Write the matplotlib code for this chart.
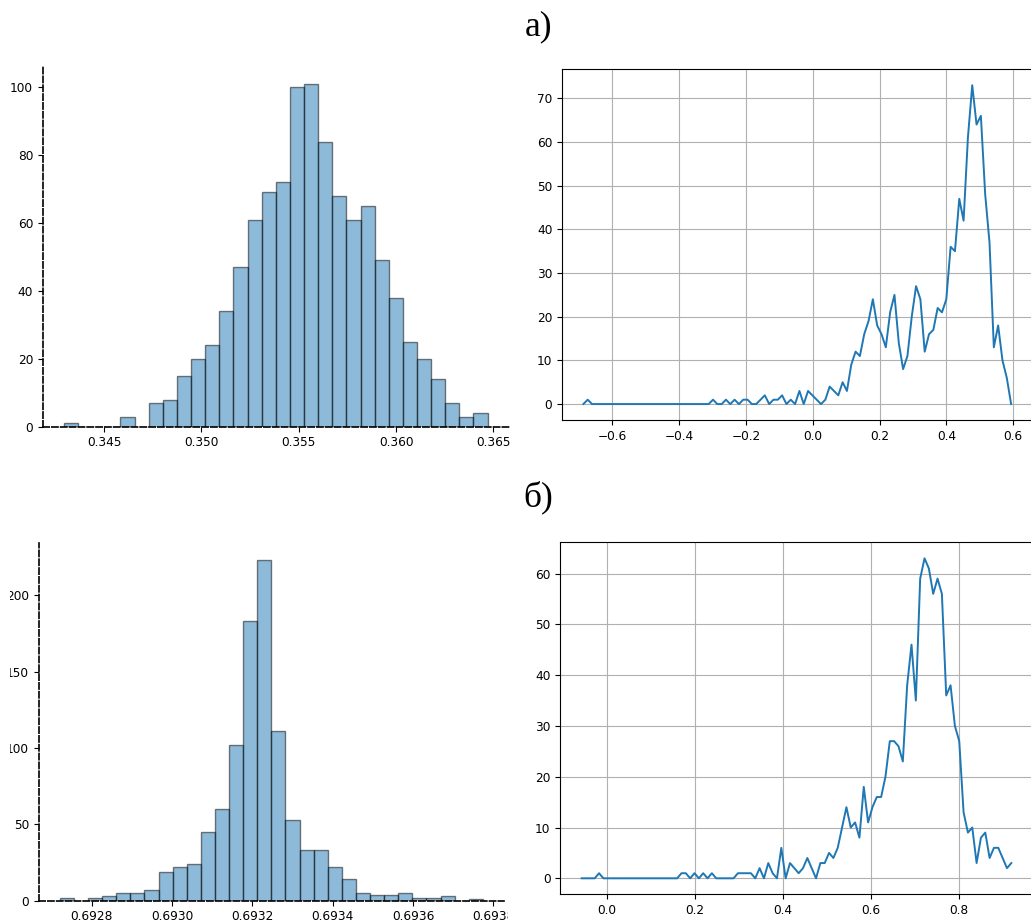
import numpy as np
import matplotlib
matplotlib.use('Agg')
import matplotlib.pyplot as plt
from matplotlib.transforms import Bbox, TransformedBbox

W, H = 1031, 923

# а) histogram of the estimate
a_hist_lo, a_hist_hi = 0.34293, 0.36471
a_hist_counts = [1, 0, 0, 0, 3, 0, 7, 8, 15, 20, 24, 34, 47, 61, 69, 72, 100, 101,
                 84, 68, 61, 65, 49, 38, 25, 20, 14, 7, 3, 4]

# а) frequency curve
a_line_x0, a_line_x1 = -0.687, 0.594
a_line_counts = [0, 1] + [0] * 28 + [
    1, 0, 0, 1, 0, 1, 0, 1, 1, 0, 0, 1, 2, 0, 1, 1, 2, 0, 1, 0,
    3, 0, 3, 2, 1, 0, 1, 4, 3, 2, 5, 3, 9, 12, 11, 16, 19, 24, 18, 16,
    13, 21, 25, 14, 8, 11, 20, 27, 24, 12, 16, 17, 22, 21, 24, 36, 35, 47, 42, 61,
    73, 64, 66, 48, 37, 13, 18, 10, 6, 0]

# б) histogram of the estimate
b_hist_lo, b_hist_hi = 0.692721, 0.693774
b_hist_counts = [2, 0, 2, 3, 5, 5, 7, 19, 22, 24, 45, 60, 102, 183, 223, 111, 53,
                 33, 33, 22, 14, 5, 4, 4, 5, 2, 2, 3, 0, 1]

# б) frequency curve
b_line_x0, b_line_x1 = -0.0568, 0.9195
b_line_counts = [0, 0, 0, 0, 1] + [0] * 18 + [
    1, 1, 0, 1, 0, 1, 0, 1, 0, 0, 0, 0, 0, 1, 1, 1, 1, 0, 2, 0,
    3, 1, 0, 6, 0, 3, 2, 1, 2, 4, 2, 0, 3, 3, 5, 4, 6, 10, 14, 10,
    11, 8, 18, 11, 14, 16, 16, 20, 27, 27, 26, 23, 38, 46, 35, 59, 63, 61, 56, 59,
    56, 36, 38, 30, 27, 13, 9, 10, 3, 8, 9, 4, 6, 6, 4, 2, 3]

FS = 8.7
plt.rcParams['font.size'] = FS


def px_axes(fig, left, top, right, bottom):
    # place an axes by pixel box of the 1031x923 picture
    return fig.add_axes([left / W, 1 - bottom / H, (right - left) / W, (bottom - top) / H])


def hist_panel(ax, lo, hi, counts):
    edges = np.linspace(lo, hi, len(counts) + 1)
    ax.hist(edges[:-1], bins=edges, weights=counts, alpha=0.5, edgecolor='black')
    for side in ['top', 'right']:
        ax.spines[side].set_visible(False)
    for side in ['left', 'bottom']:
        ax.spines[side].set_linestyle('--')
        ax.spines[side].set_linewidth(1.2)
        ax.spines[side].set_color('black')


def line_panel(ax, x0, x1, counts):
    x = np.linspace(x0, x1, len(counts))
    ax.plot(x, counts, color='#1f77b4', lw=1.4)
    ax.grid(True)


fig = plt.figure(figsize=(W / 100, H / 100), dpi=100)

ax1 = px_axes(fig, 42.8, 66.7, 508.8, 426.7)
hist_panel(ax1, a_hist_lo, a_hist_hi, a_hist_counts)

ax2 = px_axes(fig, 562.0, 69.3, 1032.5, 420.0)
line_panel(ax2, a_line_x0, a_line_x1, a_line_counts)

ax3 = px_axes(fig, 38.7, 543.3, 504.0, 900.7)
hist_panel(ax3, b_hist_lo, b_hist_hi, b_hist_counts)

ax4 = px_axes(fig, 560.2, 542.3, 1032.8, 894.3)
line_panel(ax4, b_line_x0, b_line_x1, b_line_counts)

# the lower-left panel is cut at both sides in the source picture
clip = TransformedBbox(Bbox.from_extents(9.5 / W, 0, 507.5 / W, 1), fig.transFigure)
for lbl in ax3.get_yticklabels() + ax3.get_xticklabels():
    lbl.set_clip_box(clip)

fig.text(539 / W, 1 - 35 / H, 'а)', family='Liberation Serif', fontsize=25.5,
         ha='center', va='baseline')
fig.text(538 / W, 1 - 506 / H, 'б)', family='Liberation Serif', fontsize=25.5,
         ha='center', va='baseline')

fig.savefig('out.png', dpi=100)
